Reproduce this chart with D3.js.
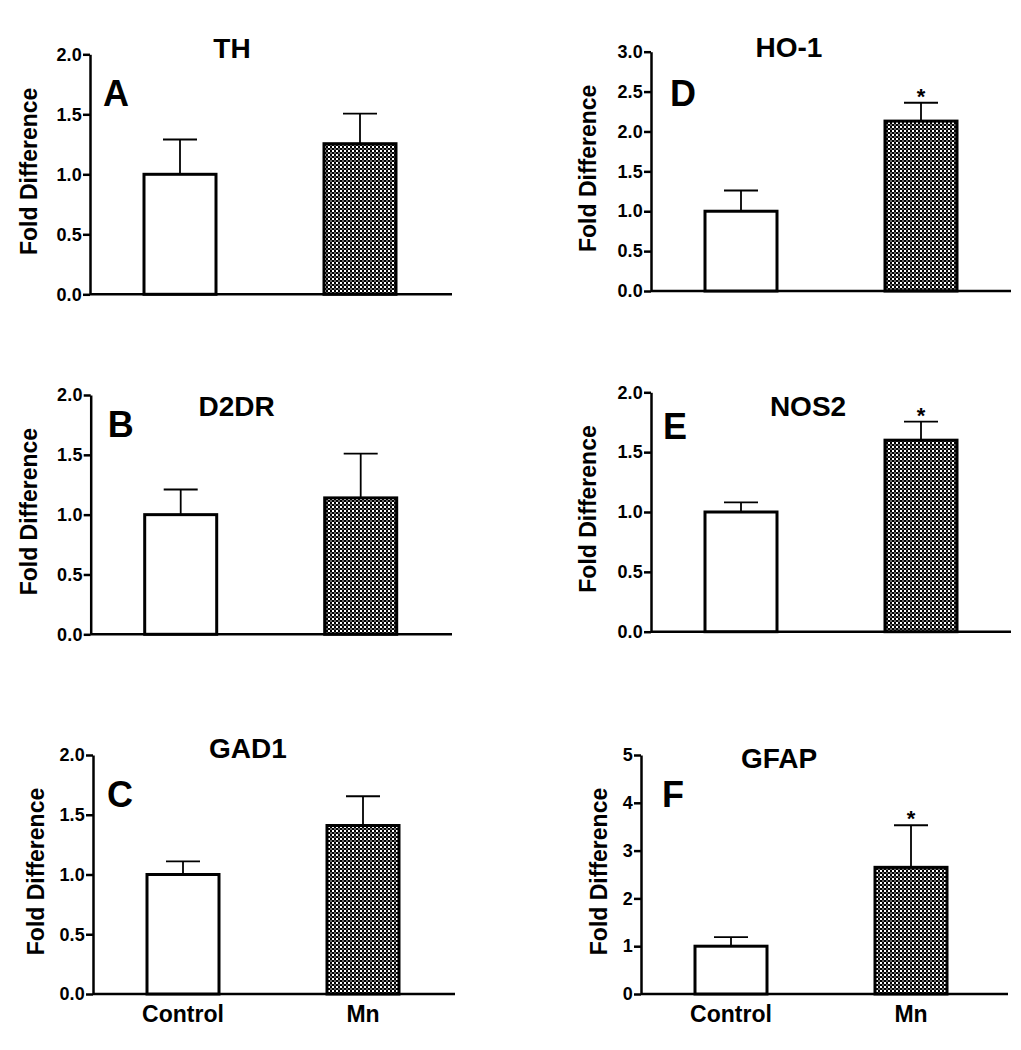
<!DOCTYPE html>
<html>
<head>
<meta charset="utf-8">
<script src="https://cdn.jsdelivr.net/npm/d3@7"></script>
<style>
  html, body { margin: 0; padding: 0; background: #fff; }
  svg { display: block; }
  text { font-family: "Liberation Sans", Arial, sans-serif; font-weight: bold; fill: #000; }
</style>
</head>
<body>
<script>
// ---------------- DATA ----------------
const genes = ["TH", "D2DR", "GAD1", "HO-1", "NOS2", "GFAP"];
const panelLetters = ["A", "B", "C", "D", "E", "F"];
const groups = ["Control", "Mn"];
const controlMean = [1.0, 1.0, 1.0, 1.0, 1.0, 1.0];
const mnMean = [1.255, 1.14, 1.41, 2.13, 1.60, 2.65];
const controlErr = [0.29, 0.21, 0.11, 0.26, 0.08, 0.19];
const mnErr = [0.25, 0.37, 0.245, 0.23, 0.155, 0.88];
const yMax = [2, 2, 2, 3, 2, 5];
const yTickStep = [0.5, 0.5, 0.5, 0.5, 0.5, 1];
const yTickFormat = [".1f", ".1f", ".1f", ".1f", ".1f", "d"];
const significant = [false, false, false, true, true, true];
const showXLabels = [false, false, true, false, false, true];
const yAxisTitle = "Fold Difference";

// ---------------- LAYOUT ----------------
const layout = [
  { left: 90,   top: 54.3,  bottom: 294.3, right: 452,  titleDx: 142, titleDy: 4,  letterDx: 13, letterDy: 52, ylabDx: -61 },
  { left: 90.7, top: 395,   bottom: 634.3, right: 452,  titleDx: 146, titleDy: 21, letterDx: 17, letterDy: 42, ylabDx: -62 },
  { left: 93,   top: 755,   bottom: 994,   right: 455,  titleDx: 155, titleDy: 3,  letterDx: 14, letterDy: 52, ylabDx: -57 },
  { left: 651,  top: 51.7,  bottom: 291,   right: 1011, titleDx: 138, titleDy: 5,  letterDx: 19, letterDy: 54, ylabDx: -63 },
  { left: 651,  top: 392.3, bottom: 631.7, right: 1011, titleDx: 157, titleDy: 24, letterDx: 12, letterDy: 47, ylabDx: -63 },
  { left: 641,  top: 755,   bottom: 994,   right: 1008, titleDx: 138, titleDy: 13, letterDx: 21, letterDy: 52, ylabDx: -42 }
];

const W = 1021, H = 1050;
const svg = d3.select("body").append("svg").attr("width", W).attr("height", H);
svg.append("rect").attr("width", W).attr("height", H).attr("fill", "#fff");

// checker pattern for Mn bars
const defs = svg.append("defs");
const pat = defs.append("pattern").attr("id", "checker")
  .attr("patternUnits", "userSpaceOnUse").attr("width", 4).attr("height", 4);
pat.append("rect").attr("width", 4).attr("height", 4).attr("fill", "#fff");
pat.append("rect").attr("x", 0).attr("y", 0).attr("width", 2).attr("height", 2).attr("fill", "#000");
pat.append("rect").attr("x", 2).attr("y", 2).attr("width", 2).attr("height", 2).attr("fill", "#000");
pat.append("rect").attr("x", 2).attr("y", 0).attr("width", 2).attr("height", 2).attr("fill", "#666");

genes.forEach((gene, i) => {
  const L = layout[i];
  const g = svg.append("g");

  const y = d3.scaleLinear().domain([0, yMax[i]]).range([L.bottom, L.top]);
  const x = d3.scaleBand().domain(groups).range([L.left, L.left + 360])
    .paddingInner(0.6).paddingOuter(0.3);

  const ticks = d3.range(0, yMax[i] + 1e-9, yTickStep[i]);
  const yAxis = d3.axisLeft(y).tickValues(ticks).tickFormat(d3.format(yTickFormat[i]))
    .tickSize(7).tickSizeOuter(0).tickPadding(1);
  const ya = g.append("g").attr("transform", `translate(${L.left},0)`).call(yAxis);
  ya.select(".domain").attr("stroke", "#000").attr("stroke-width", 2.5);
  ya.selectAll(".tick line").attr("stroke", "#000").attr("stroke-width", 2.5);
  ya.selectAll(".tick text").attr("font-size", 18).attr("font-weight", "bold")
    .attr("letter-spacing", "0.2px")
    .attr("font-family", "Liberation Sans, Arial, sans-serif").attr("fill", "#000");

  // x axis baseline
  g.append("line").attr("x1", L.left).attr("x2", L.right)
    .attr("y1", y(0)).attr("y2", y(0)).attr("stroke", "#000").attr("stroke-width", 2.5);

  const rows = [
    { grp: "Control", mean: controlMean[i], err: controlErr[i], fill: "#fff", star: false },
    { grp: "Mn", mean: mnMean[i], err: mnErr[i], fill: "url(#checker)", star: significant[i] }
  ];

  // error bars (drawn before bars so bar outline covers the base)
  rows.forEach(r => {
    const cx = x(r.grp) + x.bandwidth() / 2;
    g.append("line").attr("x1", cx).attr("x2", cx)
      .attr("y1", y(r.mean)).attr("y2", y(r.mean + r.err))
      .attr("stroke", "#000").attr("stroke-width", 1.8);
    g.append("line").attr("x1", cx - 17).attr("x2", cx + 17)
      .attr("y1", y(r.mean + r.err)).attr("y2", y(r.mean + r.err))
      .attr("stroke", "#000").attr("stroke-width", 1.8);
    if (r.star) {
      g.append("text").attr("x", cx).attr("y", y(r.mean + r.err) + 1)
        .attr("text-anchor", "middle").attr("font-size", 22).text("*");
    }
  });

  g.selectAll("rect.bar").data(rows).join("rect").attr("class", "bar")
    .attr("x", d => x(d.grp))
    .attr("width", x.bandwidth())
    .attr("y", d => y(d.mean))
    .attr("height", d => y(0) - y(d.mean))
    .attr("fill", d => d.fill)
    .attr("stroke", "#000").attr("stroke-width", 3);

  // title
  g.append("text").attr("x", L.left + L.titleDx).attr("y", L.top + L.titleDy)
    .attr("text-anchor", "middle").attr("font-size", 28).text(gene);

  // panel letter
  g.append("text").attr("x", L.left + L.letterDx).attr("y", L.top + L.letterDy)
    .attr("font-size", 36).text(panelLetters[i]);

  // y axis title
  const yc = (L.top + L.bottom) / 2 - 3;
  g.append("text")
    .attr("transform", `translate(${L.left + L.ylabDx},${yc}) rotate(-90)`)
    .attr("text-anchor", "middle").attr("dominant-baseline", "central")
    .attr("font-size", 23).text(yAxisTitle);

  // x labels
  if (showXLabels[i]) {
    groups.forEach(grp => {
      g.append("text").attr("x", x(grp) + x.bandwidth() / 2).attr("y", y(0) + 28)
        .attr("text-anchor", "middle").attr("font-size", 23).text(grp);
    });
  }
});
</script>
</body>
</html>
